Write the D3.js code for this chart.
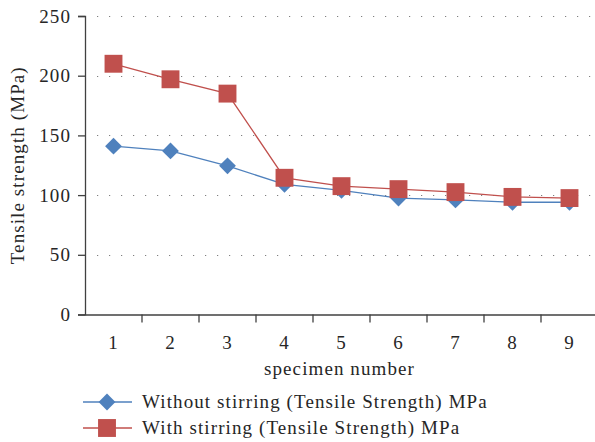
<!DOCTYPE html>
<html>
<head>
<meta charset="utf-8">
<script src="https://cdn.jsdelivr.net/npm/d3@7"></script>
<style>
  body { margin: 0; background: #fff; }
  svg text { font-family: "Liberation Serif", "DejaVu Serif", serif; fill: #262626; font-size: 19px; letter-spacing: 1.1px; }
</style>
</head>
<body>
<div id="chart"></div>
<script>
// specimens and tensile strengths (MPa)
var specimens = ["1", "2", "3", "4", "5", "6", "7", "8", "9"];
var withoutStirring = [141, 137, 124.5, 109, 104, 97.5, 96, 94, 94];
var withStirring = [210, 197, 185, 114.5, 107.5, 105, 102.5, 98.5, 97.5];
var yTicks = [0, 50, 100, 150, 200, 250];
var seriesNames = ["Without stirring (Tensile Strength) MPa", "With stirring (Tensile Strength) MPa"];
var seriesColors = ["#4F81BD", "#C0504D"];

var width = 595, height = 442;
var plotLeft = 85, plotTop = 16, plotBottom = 314.5;

var svg = d3.select("#chart").append("svg")
    .attr("width", width)
    .attr("height", height);

var x = d3.scaleBand()
    .domain(specimens)
    .range([plotLeft, plotLeft + 57 * 9]);

var y = d3.scaleLinear()
    .domain([0, 250])
    .range([plotBottom, plotTop]);

// dotted gridlines
svg.append("g")
    .selectAll("line")
    .data(yTicks.slice(1))
    .enter().append("line")
    .attr("x1", plotLeft + 12)
    .attr("x2", 592)
    .attr("y1", function (d) { return Math.round(y(d)) + 0.5; })
    .attr("y2", function (d) { return Math.round(y(d)) + 0.5; })
    .attr("stroke", "#7f7f7f")
    .attr("stroke-width", 1.2)
    .attr("stroke-dasharray", "1.2,10.8");

// y axis
var yAxis = d3.axisLeft(y).tickValues(yTicks).tickSize(7).tickPadding(7);
var gy = svg.append("g")
    .attr("transform", "translate(" + plotLeft + ",0)")
    .call(yAxis);
gy.attr("font-family", null).attr("font-size", null);

// x axis, ticks between categories
var xAxis = d3.axisBottom(x).tickSize(0).tickPadding(21);
var gx = svg.append("g")
    .attr("transform", "translate(0," + plotBottom + ")")
    .call(xAxis);
gx.attr("font-family", null).attr("font-size", null);
gx.selectAll("line.sep")
    .data(specimens)
    .enter().append("line")
    .attr("class", "sep")
    .attr("x1", function (d) { return x(d) + x.bandwidth(); })
    .attr("x2", function (d) { return x(d) + x.bandwidth(); })
    .attr("y1", 0).attr("y2", 8)
    .attr("stroke", "#404040")
    .attr("stroke-width", 1.3);

svg.selectAll(".domain").attr("stroke", "#404040").attr("stroke-width", 1.3);
svg.selectAll(".tick line").attr("stroke", "#404040").attr("stroke-width", 1.3);

// axis titles
svg.append("text")
    .attr("transform", "translate(24," + ((plotTop + plotBottom) / 2) + ") rotate(-90)")
    .attr("text-anchor", "middle")
    .text("Tensile strength (MPa)");

svg.append("text")
    .attr("x", (x("1") + x("9") + x.bandwidth()) / 2 - 2)
    .attr("y", 375)
    .attr("text-anchor", "middle")
    .text("specimen number");

var line = d3.line()
    .x(function (d, i) { return x(specimens[i]) + x.bandwidth() / 2; })
    .y(function (d) { return y(d); });

var diamond = d3.symbol().type(d3.symbolDiamond2).size(180);
var square = d3.symbol().type(d3.symbolSquare).size(320);

// series without stirring
svg.append("path")
    .datum(withoutStirring)
    .attr("d", line)
    .attr("fill", "none")
    .attr("stroke", seriesColors[0])
    .attr("stroke-width", 1.3);
svg.append("g").selectAll("path")
    .data(withoutStirring)
    .enter().append("path")
    .attr("d", diamond)
    .attr("transform", function (d, i) { return "translate(" + (x(specimens[i]) + x.bandwidth() / 2) + "," + y(d) + ")"; })
    .attr("fill", seriesColors[0]);

// series with stirring
svg.append("path")
    .datum(withStirring)
    .attr("d", line)
    .attr("fill", "none")
    .attr("stroke", seriesColors[1])
    .attr("stroke-width", 1.3);
svg.append("g").selectAll("path")
    .data(withStirring)
    .enter().append("path")
    .attr("d", square)
    .attr("transform", function (d, i) { return "translate(" + (x(specimens[i]) + x.bandwidth() / 2) + "," + y(d) + ")"; })
    .attr("fill", seriesColors[1]);

// legend
var legend = svg.append("g");
var rows = legend.selectAll("g")
    .data(seriesNames)
    .enter().append("g")
    .attr("transform", function (d, i) { return "translate(0," + (402 + i * 26) + ")"; });
rows.append("line")
    .attr("x1", 83).attr("x2", 132)
    .attr("stroke", function (d, i) { return seriesColors[i]; })
    .attr("stroke-width", 1.3);
rows.append("path")
    .attr("transform", "translate(107,0)")
    .attr("d", function (d, i) { return i === 0 ? diamond() : square(); })
    .attr("fill", function (d, i) { return seriesColors[i]; });
rows.append("text")
    .attr("x", 142)
    .attr("dy", "0.33em")
    .text(function (d) { return d; });
</script>
</body>
</html>
